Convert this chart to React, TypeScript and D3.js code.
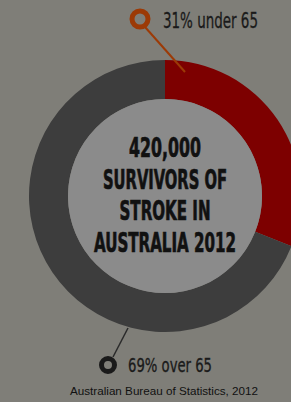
import { useMemo } from "react";
import * as d3 from "d3";

// share of stroke survivors by age group
const groups = ["under 65", "over 65"];
const shares = [31, 69];
const colors = ["#7d0000", "#3d3d3d"];
const headline = ["420,000", "SURVIVORS OF", "STROKE IN", "AUSTRALIA 2012"];
const headlineWidths = [72, 124, 91, 142];
const source = "Australian Bureau of Statistics, 2012";

const width = 291;
const height = 402;
const cx = 165;
const cy = 196;
const outerR = 136;
const innerR = 97;

const condensed = "'Liberation Sans Narrow', 'DejaVu Sans Condensed', 'Roboto Condensed', sans-serif";

export default function App() {
  const slices = useMemo(
    () => d3.pie<number>().sort(null).value((d) => d)(shares),
    []
  );
  const arc = d3.arc<d3.PieArcDatum<number>>().innerRadius(innerR).outerRadius(outerR);

  return (
    <svg
      width={width}
      height={height}
      style={{ position: "absolute", left: 0, top: 0, display: "block" }}
    >
      <rect width={width} height={height} fill="#7f7e78" />
      <g transform={`translate(${cx},${cy})`}>
        {slices.map((s, i) => (
          <path key={groups[i]} d={arc(s) || ""} fill={colors[i]} />
        ))}
        <circle r={innerR} fill="#8b8b8b" />
      </g>

      {/* headline in the hole */}
      <g fill="#111" stroke="#111" strokeWidth={0.7} fontFamily={condensed}
        fontWeight="bold" fontSize={27} textAnchor="middle">
        {headline.map((line, i) => (
          <text
            key={line}
            x={cx}
            y={157 + i * 31.7}
            textLength={headlineWidths[i]}
            lengthAdjust="spacingAndGlyphs"
          >
            {line}
          </text>
        ))}
      </g>

      {/* top callout */}
      <line x1={145} y1={27} x2={185} y2={72} stroke="#9c3a06" strokeWidth={2} />
      <circle cx={140} cy={19} r={8} fill="none" stroke="#9c3a06" strokeWidth={5} />
      <text x={163} y={28} fill="#1a1a1a" stroke="#1a1a1a" strokeWidth={0.3}
        fontFamily={condensed} fontSize={21}
        textLength={95} lengthAdjust="spacingAndGlyphs">
        {`${shares[0]}% ${groups[0]}`}
      </text>

      {/* bottom callout */}
      <line x1={113} y1={357} x2={128} y2={328} stroke="#2a2a2a" strokeWidth={1.5} />
      <circle cx={108} cy={365} r={6.5} fill="none" stroke="#1a1a1a" strokeWidth={5} />
      <text x={128} y={372} fill="#1a1a1a" stroke="#1a1a1a" strokeWidth={0.3}
        fontFamily={condensed} fontSize={19}
        textLength={84} lengthAdjust="spacingAndGlyphs">
        {`${shares[1]}% ${groups[1]}`}
      </text>

      <text x={164} y={395} fill="#111" fontFamily="'Liberation Sans', Arial, sans-serif"
        fontSize={11} textAnchor="middle" textLength={188} lengthAdjust="spacingAndGlyphs">
        {source}
      </text>
    </svg>
  );
}
